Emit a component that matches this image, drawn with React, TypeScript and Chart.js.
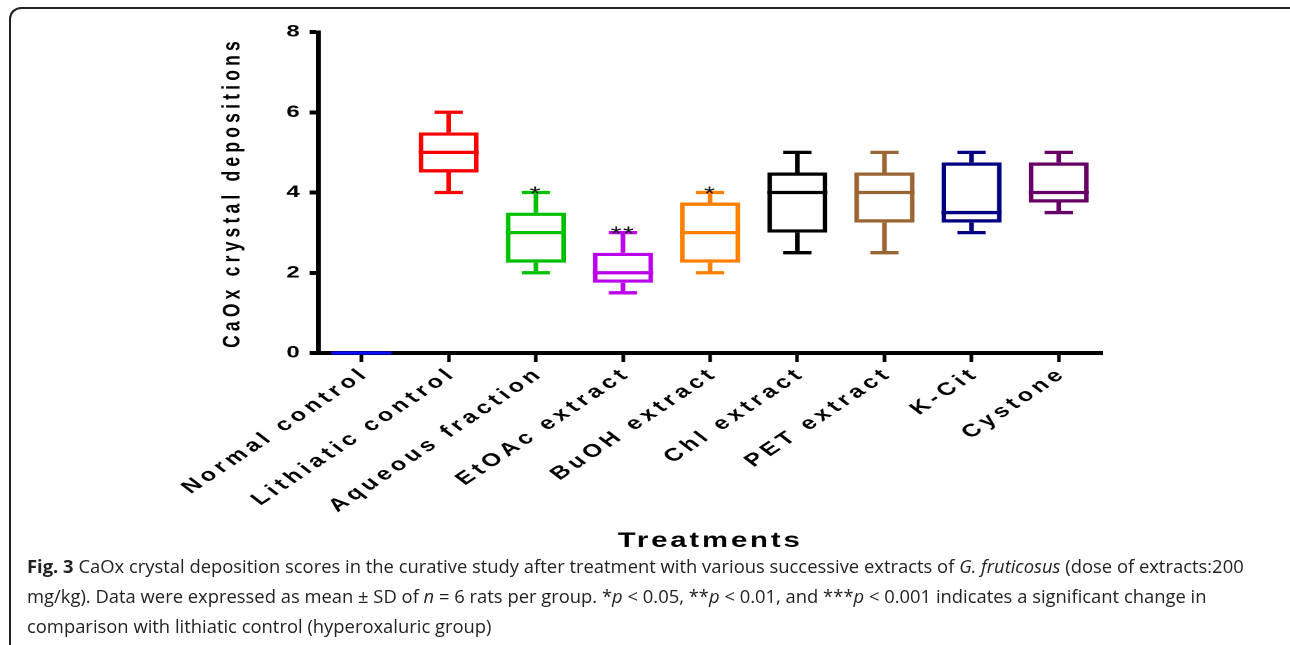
import React, { useEffect, useRef } from "react";
import { Chart, registerables } from "chart.js";

Chart.register(...registerables);

const categories = [
  "Normal control",
  "Lithiatic control",
  "Aqueous fraction",
  "EtOAc extract",
  "BuOH extract",
  "Chl extract",
  "PET extract",
  "K-Cit",
  "Cystone",
];
const whiskerMin = [0, 4, 2, 1.5, 2, 2.5, 2.5, 3, 3.5];
const quartile1 = [0, 4.5, 2.25, 1.75, 2.25, 3, 3.25, 3.25, 3.75];
const medians = [0, 5, 3, 2, 3, 4, 4, 3.5, 4];
const quartile3 = [0, 5.5, 3.5, 2.5, 3.75, 4.5, 4.5, 4.75, 4.75];
const whiskerMax = [0, 6, 4, 3, 4, 5, 5, 5, 5];
const significance = ["", "", "*", "**", "*", "", "", "", ""];
const boxColors = [
  "#0a0aff",
  "#ff0000",
  "#00c000",
  "#bb00ee",
  "#ff8000",
  "#000000",
  "#996633",
  "#000080",
  "#660066",
];
const yMin = 0;
const yMax = 8;
const yStep = 2;
const yTitle = "CaOx crystal depositions";
const xTitle = "Treatments";

const LOGICAL_W = 921;
const CANVAS_H = 555;
const STRETCH = 1290 / LOGICAL_W;

const boxPlugin = {
  id: "boxWhiskers",
  afterDatasetsDraw(chart: any) {
    const { ctx } = chart;
    const xs = chart.scales.x;
    const ys = chart.scales.y;
    const meta = chart.getDatasetMeta(0);
    ctx.save();
    ctx.lineWidth = 3.3;
    ctx.lineCap = "butt";
    categories.forEach((_, i) => {
      const bar = meta.data[i];
      const cx = xs.getPixelForValue(i);
      const half = bar.width / 2;
      const capHalf = half * 0.47;
      const pMin = ys.getPixelForValue(whiskerMin[i]);
      const pQ1 = ys.getPixelForValue(quartile1[i]);
      const pMed = ys.getPixelForValue(medians[i]);
      const pQ3 = ys.getPixelForValue(quartile3[i]);
      const pMax = ys.getPixelForValue(whiskerMax[i]);
      ctx.strokeStyle = boxColors[i];
      ctx.beginPath();
      ctx.moveTo(cx - half, pMed);
      ctx.lineTo(cx + half, pMed);
      if (whiskerMax[i] !== quartile3[i]) {
        ctx.moveTo(cx, pQ3);
        ctx.lineTo(cx, pMax);
        ctx.moveTo(cx - capHalf, pMax);
        ctx.lineTo(cx + capHalf, pMax);
      }
      if (whiskerMin[i] !== quartile1[i]) {
        ctx.moveTo(cx, pQ1);
        ctx.lineTo(cx, pMin);
        ctx.moveTo(cx - capHalf, pMin);
        ctx.lineTo(cx + capHalf, pMin);
      }
      ctx.stroke();
      if (significance[i]) {
        ctx.fillStyle = "#111";
        ctx.font = "20px 'Liberation Sans', Arial, sans-serif";
        ctx.textAlign = "center";
        ctx.textBaseline = "alphabetic";
        ctx.letterSpacing = "1px";
        ctx.fillText(significance[i], cx, pMax + 8);
      }
    });
    ctx.restore();
  },
};

const spacingPlugin = {
  id: "letterSpacingPatch",
  beforeDraw(chart: any) {
    const patch = (scale: any, method: string, px: string) => {
      const key = "__patched_" + method;
      if (!scale || scale[key]) return;
      const orig = scale[method];
      scale[method] = function (...args: any[]) {
        const c = chart.ctx;
        const prev = c.letterSpacing;
        c.letterSpacing = px;
        const r = orig.apply(this, args);
        c.letterSpacing = prev;
        return r;
      };
      scale[key] = true;
    };
    patch(chart.scales.x, "drawLabels", "3.4px");
    patch(chart.scales.x, "drawTitle", "2px");
    patch(chart.scales.y, "drawTitle", "4.2px");
  },
};

export default function App() {
  const canvasRef = useRef<HTMLCanvasElement | null>(null);

  useEffect(() => {
    if (!canvasRef.current) return;
    const chart = new Chart(canvasRef.current, {
      type: "bar",
      data: {
        labels: categories,
        datasets: [
          {
            data: categories.map((_, i) => [quartile1[i], quartile3[i]]) as any,
            backgroundColor: "rgba(0,0,0,0)",
            borderColor: boxColors,
            borderWidth: 3.3,
            borderSkipped: false,
            barPercentage: 0.69,
            categoryPercentage: 1,
          },
        ],
      },
      options: {
        animation: false,
        responsive: false,
        devicePixelRatio: 2,
        layout: { padding: { left: 155.5, right: 134, top: 32, bottom: 0 } },
        plugins: {
          legend: { display: false },
          tooltip: { enabled: false },
        },
        scales: {
          x: {
            offset: true,
            afterFit: (scale: any) => {
              scale.height = CANVAS_H - 353;
            },
            grid: {
              offset: false,
              drawOnChartArea: false,
              drawTicks: true,
              tickLength: 9,
              tickWidth: 2.6,
              tickColor: "#000",
              color: "#000",
            },
            border: { display: true, color: "#000", width: 4 },
            ticks: {
              autoSkip: false,
              minRotation: 43,
              maxRotation: 43,
              padding: 1,
              labelOffset: 3,
              color: "#000",
              font: { family: "'Liberation Sans', Arial, sans-serif", size: 18, weight: "bold" },
            },
            title: {
              display: true,
              text: xTitle,
              color: "#000",
              padding: { top: 0, bottom: 1 },
              font: { family: "'Liberation Sans', Arial, sans-serif", size: 21, weight: "bold", lineHeight: 1.2 },
            },
          },
          y: {
            min: yMin,
            max: yMax,
            afterFit: (scale: any) => {
              scale.width = 71.5;
            },
            grid: {
              drawOnChartArea: false,
              drawTicks: true,
              tickLength: 6,
              tickWidth: 4,
              tickColor: "#000",
              color: "#000",
            },
            border: { display: true, color: "#000", width: 3.5 },
            ticks: {
              stepSize: yStep,
              padding: 7,
              color: "#000",
              font: { family: "'Liberation Sans', Arial, sans-serif", size: 17, weight: "bold" },
            },
            title: {
              display: true,
              text: yTitle,
              color: "#000",
              padding: { top: 0, bottom: 0 },
              font: { family: "'Liberation Sans', Arial, sans-serif", size: 17.5, weight: "bold", lineHeight: 1.2 },
            },
          },
        },
      } as any,
      plugins: [spacingPlugin, boxPlugin],
    });
    return () => chart.destroy();
  }, []);

  return (
    <div
      style={{
        position: "absolute",
        left: 0,
        top: 0,
        width: 1290,
        height: 645,
        overflow: "hidden",
        background: "#fff",
      }}
    >
      <div
        style={{
          position: "absolute",
          left: 9,
          top: 7,
          width: 1320,
          height: 636,
          borderTop: "2px solid #222",
          borderLeft: "2px solid #222",
          borderTopLeftRadius: 12,
        }}
      />
      <div
        style={{
          position: "absolute",
          left: 0,
          top: 0,
          width: LOGICAL_W,
          height: CANVAS_H,
          transform: `scaleX(${STRETCH})`,
          transformOrigin: "0 0",
        }}
      >
        <canvas ref={canvasRef} width={LOGICAL_W} height={CANVAS_H} style={{ display: "block" }} />
      </div>
      <div
        style={{
          position: "absolute",
          left: 27,
          top: 551,
          fontFamily: "'Open Sans', 'Noto Sans', sans-serif",
          fontSize: 18.4,
          lineHeight: "30px",
          color: "#222",
          whiteSpace: "nowrap",
        }}
      >
        <div>
          <b>Fig. 3</b> CaOx crystal deposition scores in the curative study after treatment with various
          successive extracts of <i>G. fruticosus</i> (dose of extracts:200
        </div>
        <div>
          mg/kg). Data were expressed as mean ± SD of <i>n</i> = 6 rats per group. *<i>p</i> &lt; 0.05, **
          <i>p</i> &lt; 0.01, and ***<i>p</i> &lt; 0.001 indicates a significant change in
        </div>
        <div>comparison with lithiatic control (hyperoxaluric group)</div>
      </div>
    </div>
  );
}
